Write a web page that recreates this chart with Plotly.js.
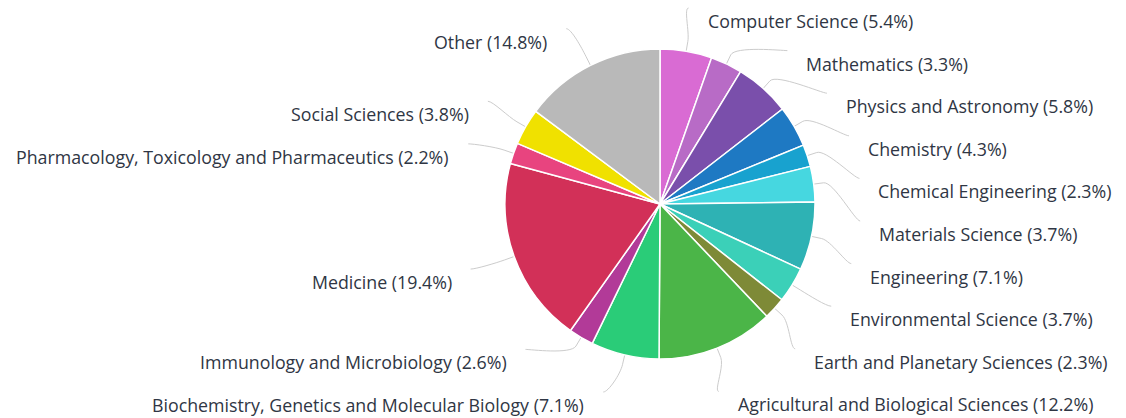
<!DOCTYPE html>
<html>
<head>
<meta charset="utf-8">
<script src="https://cdn.plot.ly/plotly-3.0.1.min.js"></script>
<style>html,body{margin:0;padding:0;background:#fff;}#chart{width:1126px;height:418px;}</style>
</head>
<body>
<div id="chart"></div>
<script>
// ---- data ----
const categories = [
  "Computer Science", "Mathematics", "Physics and Astronomy", "Chemistry",
  "Chemical Engineering", "Materials Science", "Engineering", "Environmental Science",
  "Earth and Planetary Sciences", "Agricultural and Biological Sciences",
  "Biochemistry, Genetics and Molecular Biology", "Immunology and Microbiology",
  "Medicine", "Pharmacology, Toxicology and Pharmaceutics", "Social Sciences", "Other"
];
const shares = [5.4, 3.3, 5.8, 4.3, 2.3, 3.7, 7.1, 3.7, 2.3, 12.2, 7.1, 2.6, 19.4, 2.2, 3.8, 14.8];
const colors = [
  "#D96BD3", "#B86BC6", "#7A4FAB", "#1E79C3", "#18A2CF", "#46D7E0", "#2EB2B4", "#3BD0B8",
  "#7E8A37", "#4BB548", "#2ACC78", "#B23A98", "#D23058", "#E8447F", "#F0E100", "#B9B9B9"
];

// ---- layout constants ----
const W = 1126, H = 418;
const CX = 660, CY = 204, R = 155;        // pie center / radius (px)
const LCY = 203, LRX = 201, LRY = 197;    // label ellipse
const NAT_L = 195, NAT_C = 203;           // natural label target
const SLOT = 42.6, TOP = 8, BOTTOM = 392;
const TEXT_COLOR = "#2f3644";

const px = x => x / W;
const py = y => 1 - y / H;

// slice mid-angles (clockwise from top)
const total = shares.reduce((a, b) => a + b, 0);
let acc = 0;
const items = shares.map((v, i) => {
  const mid = (acc + v / 2) / total * 2 * Math.PI;
  acc += v;
  return { i, theta: mid, right: mid < Math.PI, t: NAT_C - NAT_L * Math.cos(mid) };
});

function distribute(list) {
  list.sort((a, b) => a.t - b.t);
  let boxes = list.map(it => ({ targets: [it.t], items: [it], size: SLOT }));
  let overlapping = true, guard = 0;
  while (overlapping && guard++ < 100) {
    boxes.forEach(b => {
      const tg = (Math.min(...b.targets) + Math.max(...b.targets)) / 2;
      b.pos = Math.min(Math.max(tg - b.size / 2, TOP - SLOT / 2), BOTTOM + SLOT / 2 - b.size);
    });
    overlapping = false;
    for (let k = boxes.length - 1; k > 0; k--) {
      if (boxes[k - 1].pos + boxes[k - 1].size > boxes[k].pos + 1e-6) {
        boxes[k - 1].size += boxes[k].size;
        boxes[k - 1].targets = boxes[k - 1].targets.concat(boxes[k].targets);
        boxes[k - 1].items = boxes[k - 1].items.concat(boxes[k].items);
        boxes.splice(k, 1);
        overlapping = true;
      }
    }
  }
  boxes.forEach(b => b.items.forEach((it, k) => { it.y = b.pos + SLOT / 2 + k * SLOT; }));
}
distribute(items.filter(d => d.right));
distribute(items.filter(d => !d.right));

const annotations = [], shapes = [];
items.forEach(it => {
  const dir = it.right ? 1 : -1;
  const dy = it.y - LCY;
  const ex = CX + dir * LRX * Math.sqrt(Math.max(0, 1 - (dy / LRY) ** 2));
  const ey = it.y;
  const sx = Math.sin(it.theta), sy = -Math.cos(it.theta);
  const tx = CX + R * sx, ty = CY + R * sy;           // touching slice
  const bx = CX + (R + 10) * sx, by = CY + (R + 10) * sy; // break point
  const c1x = ex - dir * 5, c1y = ey;
  const c2x = 2 * bx - tx, c2y = 2 * by - ty;
  shapes.push({
    type: "path", xref: "paper", yref: "paper",
    path: `M ${px(ex)} ${py(ey)} C ${px(c1x)} ${py(c1y)} ${px(c2x)} ${py(c2y)} ${px(bx)} ${py(by)} L ${px(tx)} ${py(ty)}`,
    line: { color: "#cccccc", width: 1 }, layer: "below"
  });
  annotations.push({
    xref: "paper", yref: "paper",
    x: px(ex + dir * 17), y: py(ey + 13),
    xanchor: it.right ? "left" : "right", yanchor: "middle",
    text: `${categories[it.i]} (${shares[it.i].toFixed(1)}%)`,
    showarrow: false,
    font: { family: "'Open Sans', sans-serif", size: 17.8, color: TEXT_COLOR }
  });
});

const trace = {
  type: "pie",
  labels: categories,
  values: shares,
  sort: false,
  direction: "clockwise",
  rotation: 0,
  textinfo: "none",
  hoverinfo: "label+percent",
  marker: { colors: colors, line: { color: "#ffffff", width: 1.5 } },
  domain: { x: [px(CX - R), px(CX + R)], y: [py(CY + R), py(CY - R)] },
  showlegend: false
};

Plotly.newPlot("chart", [trace], {
  width: W, height: H,
  margin: { l: 0, r: 0, t: 0, b: 0 },
  paper_bgcolor: "#ffffff",
  showlegend: false,
  annotations, shapes
}, { displayModeBar: false, staticPlot: true });
</script>
</body>
</html>
